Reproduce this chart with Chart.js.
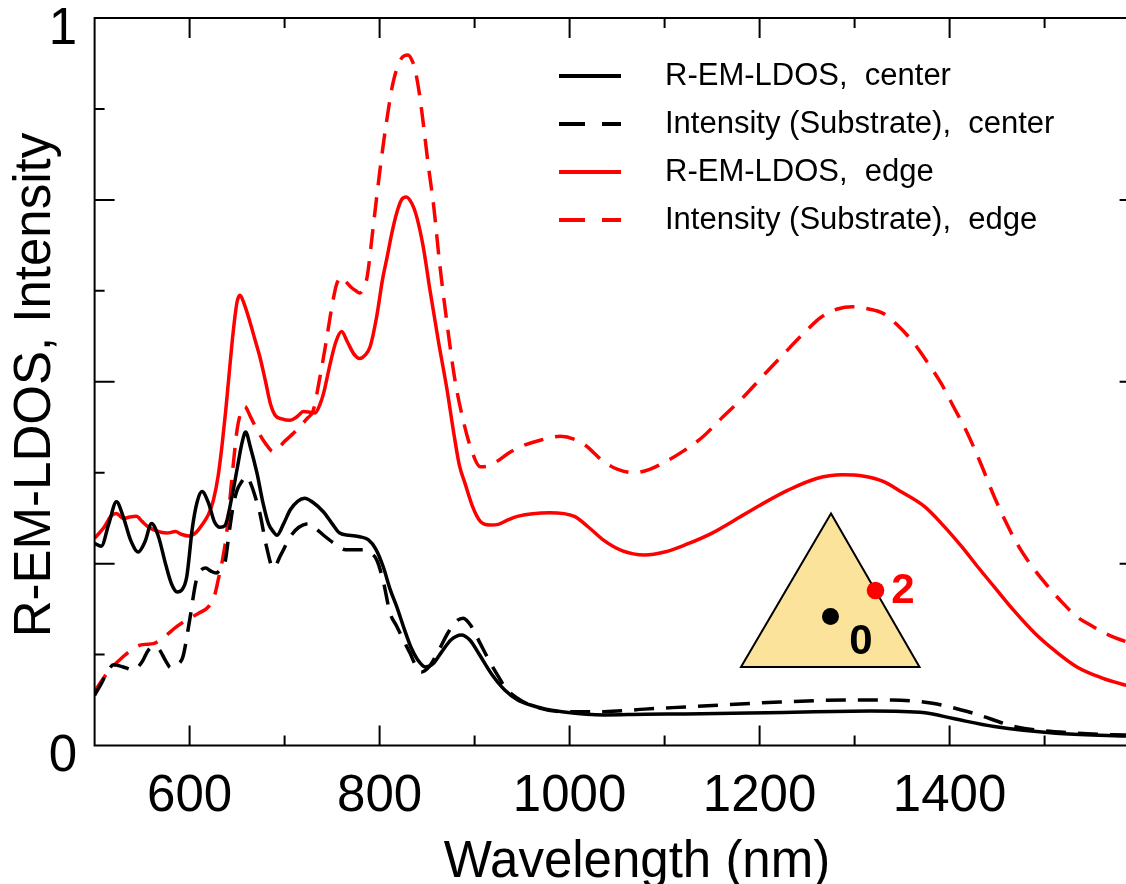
<!DOCTYPE html>
<html>
<head>
<meta charset="utf-8">
<title>R-EM-LDOS and substrate intensity spectra</title>
<script src="https://cdn.jsdelivr.net/npm/chart.js@4.4.1/dist/chart.umd.min.js"></script>
<style>
  html, body { margin: 0; padding: 0; background: #fff; overflow: hidden; }
  #wrap { width: 1142px; height: 884px; }
  canvas { display: block; }
</style>
</head>
<body>
<div id="wrap"><canvas id="spectra" width="1142" height="884"></canvas></div>
<script>
// ---- Spectra (wavelength in nm, normalised value) ----
const centerLdosNm = [500, 507, 515, 523, 530, 538, 546, 553, 560, 567, 575, 581, 587, 592, 597, 603, 608, 613, 620, 626,
  632, 637, 645, 650, 655, 659, 664, 671, 677, 683, 688, 692, 699, 706, 714, 721, 730, 741, 750, 758,
  768, 779, 788, 796, 804, 811, 818, 826, 833, 840, 848, 856, 865, 875, 886, 895, 905, 918, 932, 945,
  958, 975, 992, 1036, 1080, 1122, 1209, 1317, 1374, 1404, 1447, 1512, 1585, 1600];
const centerLdos = [0.278, 0.274, 0.305, 0.335, 0.315, 0.282, 0.266, 0.280, 0.305, 0.288, 0.248, 0.222, 0.211, 0.214, 0.232, 0.300, 0.335, 0.349, 0.333, 0.308,
  0.300, 0.302, 0.345, 0.380, 0.415, 0.431, 0.410, 0.374, 0.335, 0.305, 0.294, 0.289, 0.305, 0.324, 0.336, 0.340, 0.334, 0.321, 0.305, 0.292,
  0.289, 0.287, 0.283, 0.270, 0.245, 0.215, 0.191, 0.160, 0.135, 0.118, 0.108, 0.112, 0.128, 0.145, 0.152, 0.145, 0.125, 0.098, 0.076, 0.063,
  0.056, 0.050, 0.0465, 0.042, 0.043, 0.0433, 0.045, 0.0474, 0.045, 0.037, 0.026, 0.0168, 0.013, 0.012];

const centerIntNm = [500, 507, 513, 520, 530, 541, 550, 556, 562, 568, 575, 580, 585, 589, 593, 600, 607, 613, 617, 622,
  628, 633, 637, 642, 646, 650, 655, 660, 665, 670, 674, 681, 688, 696, 706, 715, 725, 733, 741, 752,
  764, 783, 790, 797, 804, 811, 818, 825, 832, 838, 844, 852, 862, 872, 880, 888, 896, 906, 916, 925,
  932, 945, 960, 992, 1036, 1079, 1122, 1209, 1296, 1339, 1382, 1426, 1469, 1534, 1585, 1600];
const centerInt = [0.069, 0.085, 0.100, 0.111, 0.108, 0.104, 0.115, 0.130, 0.136, 0.132, 0.116, 0.107, 0.108, 0.113, 0.122, 0.172, 0.227, 0.242, 0.244, 0.240,
  0.237, 0.243, 0.250, 0.296, 0.330, 0.351, 0.363, 0.370, 0.358, 0.338, 0.319, 0.273, 0.244, 0.262, 0.287, 0.300, 0.305, 0.298, 0.289, 0.278,
  0.269, 0.269, 0.265, 0.255, 0.225, 0.182, 0.164, 0.145, 0.127, 0.110, 0.101, 0.108, 0.130, 0.155, 0.170, 0.175, 0.165, 0.140, 0.115, 0.095,
  0.080, 0.065, 0.055, 0.0465, 0.0465, 0.050, 0.053, 0.059, 0.0625, 0.0625, 0.058, 0.044, 0.026, 0.0168, 0.0144, 0.014];

const edgeLdosNm = [500, 510, 517, 523, 530, 537, 544, 550, 556, 565, 576, 585, 592, 599, 607, 614, 620, 625, 630, 634,
  638, 641, 646, 650, 653, 658, 664, 669, 674, 680, 685, 690, 697, 706, 713, 720, 727, 732, 737, 741,
  748, 754, 760, 766, 773, 779, 785, 790, 797, 803, 808, 813, 818, 823, 828, 834, 839, 846, 853, 862,
  871, 878, 884, 890, 898, 906, 916, 925, 935, 945, 979, 1005, 1020, 1036, 1055, 1079, 1100, 1122, 1150, 1174,
  1200, 1230, 1260, 1287, 1310, 1330, 1350, 1374, 1393, 1413, 1430, 1447, 1468, 1490, 1512, 1534, 1560, 1585, 1600];
const edgeLdos = [0.285, 0.300, 0.315, 0.319, 0.312, 0.314, 0.315, 0.308, 0.301, 0.295, 0.292, 0.294, 0.290, 0.288, 0.293, 0.305, 0.318, 0.337, 0.370, 0.411,
  0.460, 0.502, 0.570, 0.610, 0.619, 0.605, 0.580, 0.557, 0.534, 0.500, 0.470, 0.454, 0.449, 0.447, 0.452, 0.459, 0.458, 0.457, 0.468, 0.484,
  0.525, 0.555, 0.569, 0.555, 0.538, 0.532, 0.537, 0.548, 0.590, 0.640, 0.672, 0.705, 0.732, 0.750, 0.754, 0.745, 0.727, 0.685, 0.626, 0.555,
  0.489, 0.430, 0.385, 0.360, 0.328, 0.308, 0.303, 0.304, 0.310, 0.315, 0.320, 0.315, 0.300, 0.282, 0.268, 0.262, 0.266, 0.276, 0.292, 0.310,
  0.330, 0.351, 0.367, 0.372, 0.370, 0.363, 0.348, 0.328, 0.303, 0.273, 0.245, 0.218, 0.185, 0.154, 0.129, 0.108, 0.093, 0.083, 0.078];

const edgeIntNm = [500, 508, 516, 530, 544, 553, 562, 574, 586, 600, 610, 620, 626, 630, 635, 639, 644, 650, 654, 658,
  664, 671, 680, 688, 700, 713, 724, 730, 737, 744, 750, 755, 760, 765, 770, 775, 779, 783, 787, 793,
  800, 807, 814, 821, 826, 830, 834, 837, 842, 846, 851, 857, 863, 871, 879, 888, 897, 906, 914, 923,
  936, 949, 970, 990, 1014, 1036, 1050, 1068, 1085, 1101, 1120, 1140, 1160, 1183, 1205, 1226, 1246, 1265, 1282, 1298,
  1315, 1330, 1345, 1360, 1375, 1391, 1404, 1417, 1432, 1447, 1460, 1473, 1488, 1504, 1519, 1534, 1549, 1564, 1585, 1600];
const edgeInt = [0.074, 0.090, 0.104, 0.122, 0.136, 0.139, 0.140, 0.150, 0.163, 0.175, 0.182, 0.191, 0.205, 0.227, 0.258, 0.292, 0.360, 0.434, 0.458, 0.466,
  0.452, 0.434, 0.415, 0.404, 0.418, 0.434, 0.450, 0.460, 0.505, 0.557, 0.605, 0.635, 0.644, 0.637, 0.630, 0.625, 0.622, 0.628, 0.645, 0.710,
  0.787, 0.855, 0.910, 0.940, 0.948, 0.949, 0.942, 0.931, 0.895, 0.855, 0.800, 0.741, 0.665, 0.580, 0.505, 0.447, 0.405, 0.383, 0.384, 0.390,
  0.402, 0.411, 0.420, 0.425, 0.415, 0.390, 0.380, 0.375, 0.380, 0.390, 0.405, 0.424, 0.450, 0.479, 0.510, 0.539, 0.566, 0.589, 0.600, 0.603,
  0.600, 0.594, 0.578, 0.557, 0.530, 0.498, 0.466, 0.434, 0.390, 0.342, 0.305, 0.273, 0.244, 0.218, 0.196, 0.177, 0.165, 0.154, 0.143, 0.137];

const seriesLabels = ['R-EM-LDOS,  center', 'Intensity (Substrate),  center', 'R-EM-LDOS,  edge', 'Intensity (Substrate),  edge'];
const xTickLabels = [600, 800, 1000, 1200, 1400];
const yTickLabels = [0, 1];
const xTitle = 'Wavelength (nm)';
const yTitle = 'R-EM-LDOS, Intensity';

const FONT = "'Liberation Sans', Arial, Helvetica, sans-serif";
const RED = '#ff0000';
// plot frame in canvas pixels (the right side runs just past the visible page)
const PLOT_BOX = { left: 94.6, top: 18, right: 1139.6, bottom: 745.5 };
const CANVAS_W = 1142;

const toPoints = (xs, ys) => xs.map((v, i) => ({ x: v, y: ys[i] }));

// Box frame with inward ticks on all four sides
const framePlugin = {
  id: 'frame',
  afterDatasetsDraw(chart) {
    const { ctx, chartArea: a, scales: { x, y } } = chart;
    ctx.save();
    ctx.strokeStyle = '#000';
    ctx.lineWidth = 2;
    ctx.strokeRect(a.left, a.top, a.right - a.left, a.bottom - a.top);
    ctx.beginPath();
    x.ticks.forEach(t => {
      if (t.value <= x.min || t.value >= x.max) return;
      const px = x.getPixelForValue(t.value);
      const len = t.value % 200 === 0 ? 20 : 10;
      ctx.moveTo(px, a.bottom); ctx.lineTo(px, a.bottom - len);
      ctx.moveTo(px, a.top); ctx.lineTo(px, a.top + len);
    });
    y.ticks.forEach(t => {
      if (t.value <= y.min || t.value >= y.max) return;
      const py = y.getPixelForValue(t.value);
      const q = t.value * 4;
      const len = Math.abs(q - Math.round(q)) < 1e-6 ? 20 : 10;
      ctx.moveTo(a.left, py); ctx.lineTo(a.left + len, py);
      ctx.moveTo(a.right, py); ctx.lineTo(a.right - len, py);
    });
    ctx.stroke();
    ctx.restore();
  }
};

// Axis titles, legend and the particle sketch
const decorPlugin = {
  id: 'decor',
  afterDraw(chart) {
    const { ctx } = chart;
    ctx.save();
    ctx.fillStyle = '#000';

    // axis titles
    ctx.font = `51px ${FONT}`;
    ctx.textAlign = 'center';
    ctx.textBaseline = 'alphabetic';
    ctx.fillText(xTitle, 637, 876.5);
    ctx.save();
    ctx.translate(50, 385);
    ctx.rotate(-Math.PI / 2);
    ctx.fillText(yTitle, 0, 0);
    ctx.restore();

    // legend
    ctx.font = `31px ${FONT}`;
    ctx.textAlign = 'left';
    ctx.textBaseline = 'middle';
    chart.data.datasets.forEach((ds, i) => {
      const ry = 76 + i * 48;
      ctx.save();
      ctx.strokeStyle = ds.borderColor;
      ctx.lineWidth = 4;
      ctx.setLineDash(ds.borderDash && ds.borderDash.length ? [26, 17] : []);
      ctx.beginPath();
      ctx.moveTo(559, ry);
      ctx.lineTo(621, ry);
      ctx.stroke();
      ctx.restore();
      ctx.fillStyle = '#000';
      ctx.fillText(ds.label, 665, ry);
    });

    // triangular particle with the two probe positions
    ctx.beginPath();
    ctx.moveTo(831, 513.5);
    ctx.lineTo(741, 667);
    ctx.lineTo(919.5, 667);
    ctx.closePath();
    ctx.fillStyle = '#fce39c';
    ctx.fill();
    ctx.strokeStyle = '#000';
    ctx.lineWidth = 2;
    ctx.stroke();

    ctx.fillStyle = '#000';
    ctx.beginPath();
    ctx.arc(830.5, 616.5, 8.5, 0, Math.PI * 2);
    ctx.fill();
    ctx.fillStyle = RED;
    ctx.beginPath();
    ctx.arc(875.5, 590.5, 8.8, 0, Math.PI * 2);
    ctx.fill();

    ctx.font = `bold 42px ${FONT}`;
    ctx.textAlign = 'center';
    ctx.textBaseline = 'alphabetic';
    ctx.fillStyle = '#000';
    ctx.fillText('0', 861, 653.5);
    ctx.fillStyle = RED;
    ctx.fillText('2', 903, 602.5);

    ctx.restore();
  }
};

const lineStyle = { pointRadius: 0, borderWidth: 3.5, cubicInterpolationMode: 'monotone', fill: false };

// Tick marks are drawn by framePlugin; the (hidden) tick length only sets the
// gap between the frame and the tick labels, leaving ticks.padding at zero.
new Chart(document.getElementById('spectra'), {
  type: 'line',
  data: {
    datasets: [
      { label: seriesLabels[0], data: toPoints(centerLdosNm, centerLdos), borderColor: '#000', borderDash: [], ...lineStyle },
      { label: seriesLabels[1], data: toPoints(centerIntNm, centerInt), borderColor: '#000', borderDash: [20, 12], ...lineStyle },
      { label: seriesLabels[2], data: toPoints(edgeLdosNm, edgeLdos), borderColor: RED, borderDash: [], ...lineStyle },
      { label: seriesLabels[3], data: toPoints(edgeIntNm, edgeInt), borderColor: RED, borderDash: [20, 12], ...lineStyle }
    ]
  },
  options: {
    responsive: false,
    animation: false,
    devicePixelRatio: 1,
    layout: { padding: { left: 0, top: PLOT_BOX.top, right: CANVAS_W - PLOT_BOX.right, bottom: 0 } },
    plugins: { legend: { display: false }, tooltip: { enabled: false } },
    scales: {
      x: {
        type: 'linear',
        min: 500,
        max: 1600,
        grid: { display: false, drawTicks: true, tickLength: 26 },
        border: { display: false },
        ticks: {
          stepSize: 100,
          autoSkip: false,
          maxRotation: 0,
          padding: 0,
          color: '#000',
          font: { family: FONT, size: 51, lineHeight: 1 },
          callback: v => (xTickLabels.includes(v) ? String(v) : '')
        },
        afterFit: s => { s.height = 884 - PLOT_BOX.bottom; }
      },
      y: {
        type: 'linear',
        min: 0,
        max: 1,
        grid: { display: false, drawTicks: true, tickLength: 17.5 },
        border: { display: false },
        ticks: {
          stepSize: 0.125,
          autoSkip: false,
          padding: 0,
          labelOffset: 11.5,
          color: '#000',
          font: { family: FONT, size: 51, lineHeight: 0.5 },
          callback: v => (yTickLabels.includes(v) ? String(v) : '')
        },
        afterFit: s => { s.width = PLOT_BOX.left; }
      }
    }
  },
  plugins: [framePlugin, decorPlugin]
});
</script>
</body>
</html>
